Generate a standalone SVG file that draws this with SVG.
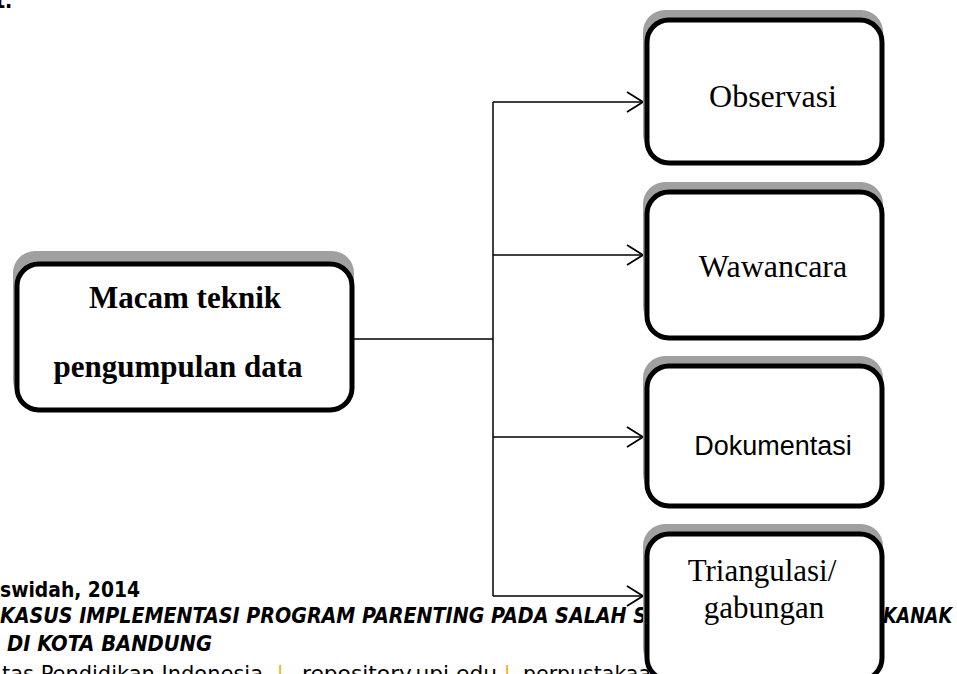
<svg xmlns="http://www.w3.org/2000/svg" width="957" height="674" viewBox="0 0 957 674">
<defs>
<style>
.shadow{fill:#a0a0a0;stroke:none}
.box{fill:#ffffff;stroke:#000000;stroke-width:5}
.serif{font-family:"Liberation Serif","Times New Roman",serif;fill:#000}
.sans{font-family:"Liberation Sans",Arial,sans-serif;fill:#000}
.foot{font-family:"DejaVu Sans Condensed","DejaVu Sans",Verdana,sans-serif;font-size:21px;fill:#000}
.sep{fill:#f5a800}
.conn{fill:none;stroke:#000;stroke-width:1.5}
</style>
<marker id="arr" markerWidth="20" markerHeight="24" refX="17" refY="11" orient="auto" markerUnits="userSpaceOnUse">
<path d="M1,1 L17,11 L1,21" fill="none" stroke="#000" stroke-width="1.8"/>
</marker>
</defs>
<rect width="957" height="674" fill="#ffffff"/>

<g id="footer">
<text class="foot" x="-4" y="7.5" font-weight="bold">t.</text>
<text class="foot" x="0" y="597" font-weight="bold" textLength="140" lengthAdjust="spacingAndGlyphs">swidah, 2014</text>
<text class="foot" x="0" y="623" font-weight="bold" font-style="italic" textLength="647" lengthAdjust="spacingAndGlyphs">KASUS IMPLEMENTASI PROGRAM PARENTING PADA SALAH S</text>
<text class="foot" x="883" y="623" font-weight="bold" font-style="italic" textLength="69" lengthAdjust="spacingAndGlyphs">KANAK</text>
<text class="foot" x="7" y="651" font-weight="bold" font-style="italic" textLength="205" lengthAdjust="spacingAndGlyphs">DI KOTA BANDUNG</text>
<text class="foot" x="2" y="681" textLength="261" lengthAdjust="spacingAndGlyphs">tas Pendidikan Indonesia</text>
<text class="foot sep" x="277" y="681">|</text>
<text class="foot" x="302" y="681" textLength="195" lengthAdjust="spacingAndGlyphs">repository.upi.edu</text>
<text class="foot sep" x="504" y="681">|</text>
<text class="foot" x="523" y="681" textLength="128" lengthAdjust="spacingAndGlyphs">perpustakaa</text>
</g>

<g id="connectors">
<polyline class="conn" points="354,339 493,339"/>
<polyline class="conn" points="493,102 493,596"/>
<line class="conn" x1="493" y1="102" x2="643" y2="102" marker-end="url(#arr)"/>
<line class="conn" x1="493" y1="255" x2="643" y2="255" marker-end="url(#arr)"/>
<line class="conn" x1="493" y1="437" x2="643" y2="437" marker-end="url(#arr)"/>
<line class="conn" x1="493" y1="596" x2="643" y2="596" marker-end="url(#arr)"/>
</g>

<g id="node-main">
<rect class="shadow" x="13" y="251" width="341" height="151" rx="22"/>
<rect class="box" x="17" y="264" width="335" height="146" rx="22"/>
<text class="serif" x="185" y="308" font-size="31" font-weight="bold" text-anchor="middle">Macam teknik</text>
<text class="serif" x="178" y="377" font-size="31" font-weight="bold" text-anchor="middle">pengumpulan data</text>
</g>

<g id="node-observasi">
<rect class="shadow" x="643" y="10" width="240" height="146" rx="22"/>
<rect class="box" x="647" y="20" width="235" height="143" rx="22"/>
<text class="serif" x="773" y="107" font-size="32" text-anchor="middle">Observasi</text>
</g>

<g id="node-wawancara">
<rect class="shadow" x="643" y="182" width="240" height="146" rx="22"/>
<rect class="box" x="647" y="192" width="235" height="146" rx="22"/>
<text class="serif" x="773" y="277" font-size="32" text-anchor="middle">Wawancara</text>
</g>

<g id="node-dokumentasi">
<rect class="shadow" x="643" y="356" width="240" height="140" rx="22"/>
<rect class="box" x="647" y="366" width="235" height="140" rx="22"/>
<text class="sans" x="773" y="455" font-size="27" text-anchor="middle">Dokumentasi</text>
</g>

<g id="node-triangulasi">
<rect class="shadow" x="643" y="524" width="240" height="146" rx="22"/>
<rect class="box" x="647" y="534" width="235" height="146" rx="22"/>
<text class="serif" x="762" y="581" font-size="31" text-anchor="middle">Triangulasi/</text>
<text class="serif" x="764" y="618" font-size="31" text-anchor="middle">gabungan</text>
</g>
</svg>
